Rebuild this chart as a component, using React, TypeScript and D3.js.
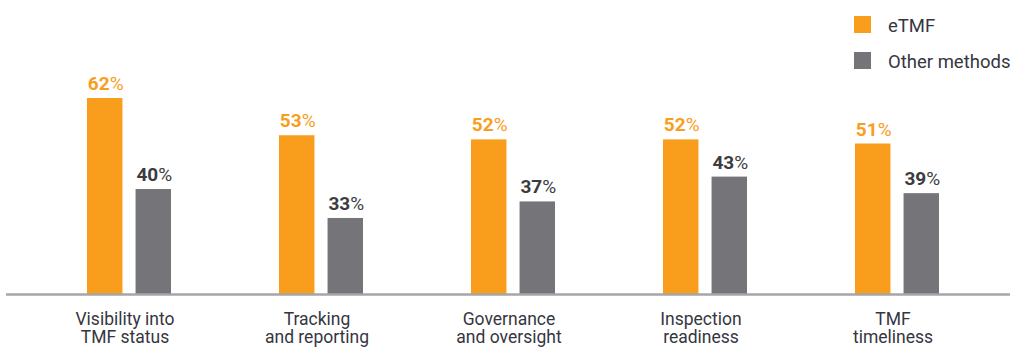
import * as d3 from "d3";

const categories = [
  ["Visibility into", "TMF status"],
  ["Tracking", "and reporting"],
  ["Governance", "and oversight"],
  ["Inspection", "readiness"],
  ["TMF", "timeliness"],
];
const etmf = [62, 53, 52, 52, 51];
const other = [40, 33, 37, 43, 39];
const seriesNames = ["eTMF", "Other methods"];
const colors = ["#F89E1C", "#757579"];
const labelColors = ["#F89E1C", "#3C3C3E"];

const width = 1015;
const height = 361;
const baseY = 294.5;

export default function App() {
  const keys = categories.map((c) => c.join(" "));
  const x = d3.scaleBand().domain(keys).range([33, 993]).paddingInner(0);
  const inner = d3.scaleBand().domain(seriesNames).range([-42, 42]).paddingInner(0.27);
  // the source graphic is not drawn to zero; fitted baseline
  const y = d3.scaleLinear().domain([14.5, 62]).range([baseY, 98]);
  const series = [etmf, other];

  return (
    <div style={{ position: "absolute", left: 0, top: 0 }}>
      <svg width={width} height={height} style={{ fontFamily: "Roboto, sans-serif", display: "block" }}>
        {keys.map((k, i) => {
          const cx = x(k)! + x.bandwidth() / 2;
          return (
            <g key={k}>
              {seriesNames.map((s, j) => {
                const v = series[j][i];
                const bx = cx + inner(s)!;
                const top = y(v);
                return (
                  <g key={s}>
                    <rect x={bx} y={top} width={inner.bandwidth()} height={baseY - top} fill={colors[j]} />
                    <text x={bx + inner.bandwidth() / 2 + 1} y={top - 8} textAnchor="middle" fontSize={19} fill={labelColors[j]}>
                      <tspan fontWeight={700}>{v}</tspan>
                      <tspan fontWeight={400}>%</tspan>
                    </text>
                  </g>
                );
              })}
              <text textAnchor="middle" fontSize={17.5} fill="#36363f">
                <tspan x={cx - 4} y={325}>{categories[i][0]}</tspan>
                <tspan x={cx - 4} y={343}>{categories[i][1]}</tspan>
              </text>
            </g>
          );
        })}
        <line x1={6} x2={1010} y1={baseY} y2={baseY} stroke="#a6a6a8" strokeWidth={2.5} />
        {seriesNames.map((s, j) => (
          <g key={s} transform={`translate(854,${16 + j * 36})`}>
            <rect width={17} height={17} fill={colors[j]} />
            <text x={34} y={15.5} fontSize={18.5} fill="#36363f">{s}</text>
          </g>
        ))}
      </svg>
    </div>
  );
}
